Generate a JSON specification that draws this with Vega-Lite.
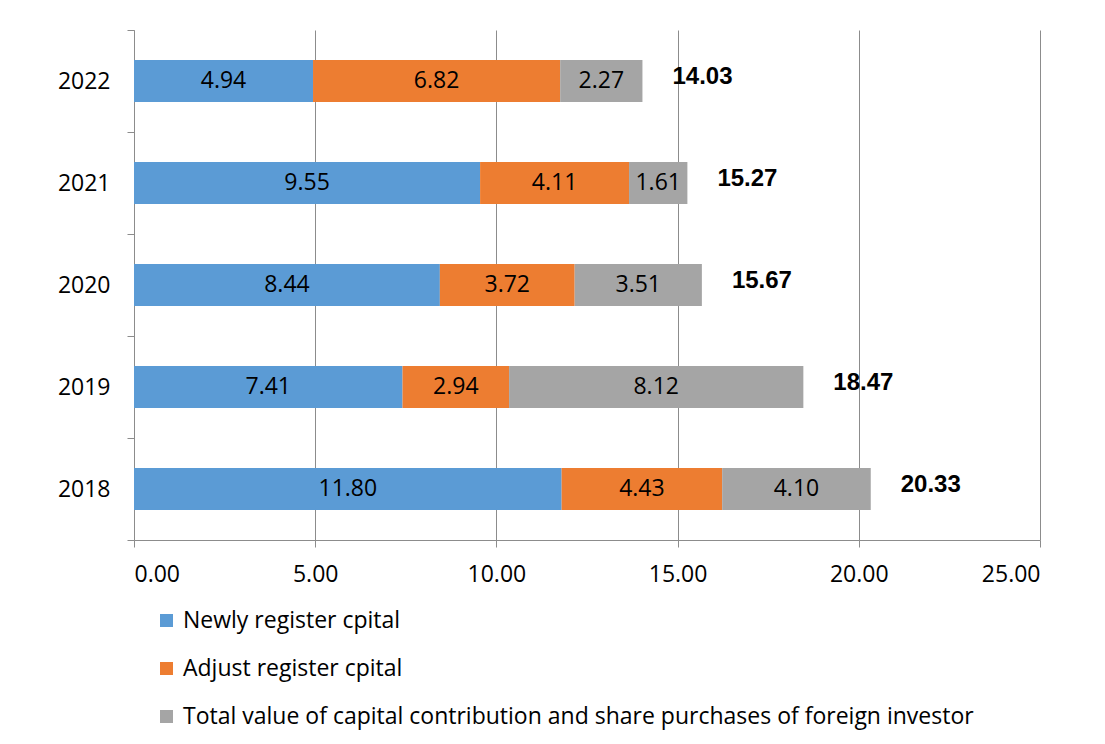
{
  "$schema": "https://vega.github.io/schema/vega-lite/v6.json",
  "width": 906,
  "height": 510,
  "autosize": "none",
  "padding": {"left": 134, "top": 30, "right": 65, "bottom": 204},
  "background": "white",
  "config": {
    "view": {"stroke": null},
    "font": "Open Sans",
    "axis": {
      "domainColor": "#8c8c8c",
      "tickColor": "#8c8c8c",
      "gridColor": "#8c8c8c",
      "labelColor": "#000000",
      "labelFont": "Open Sans",
      "labelFontSize": 23,
      "title": null
    },
    "legend": {
      "labelFont": "Open Sans",
      "labelFontSize": 23,
      "labelColor": "#000000"
    }
  },
  "data": {
    "values": [
      {"year": "2022", "series": "Newly register cpital", "value": 4.94},
      {"year": "2022", "series": "Adjust register cpital", "value": 6.82},
      {"year": "2022", "series": "Total value of capital contribution and share purchases of foreign investor", "value": 2.27},
      {"year": "2021", "series": "Newly register cpital", "value": 9.55},
      {"year": "2021", "series": "Adjust register cpital", "value": 4.11},
      {"year": "2021", "series": "Total value of capital contribution and share purchases of foreign investor", "value": 1.61},
      {"year": "2020", "series": "Newly register cpital", "value": 8.44},
      {"year": "2020", "series": "Adjust register cpital", "value": 3.72},
      {"year": "2020", "series": "Total value of capital contribution and share purchases of foreign investor", "value": 3.51},
      {"year": "2019", "series": "Newly register cpital", "value": 7.41},
      {"year": "2019", "series": "Adjust register cpital", "value": 2.94},
      {"year": "2019", "series": "Total value of capital contribution and share purchases of foreign investor", "value": 8.12},
      {"year": "2018", "series": "Newly register cpital", "value": 11.80},
      {"year": "2018", "series": "Adjust register cpital", "value": 4.43},
      {"year": "2018", "series": "Total value of capital contribution and share purchases of foreign investor", "value": 4.10}
    ]
  },
  "transform": [
    {"calculate": "indexof(['Newly register cpital','Adjust register cpital','Total value of capital contribution and share purchases of foreign investor'], datum.series)", "as": "rank"},
    {"stack": "value", "groupby": ["year"], "sort": [{"field": "rank", "order": "ascending"}], "as": ["x0", "x1"]},
    {"calculate": "(datum.x0 + datum.x1) / 2", "as": "mid"}
  ],
  "encoding": {
    "y": {
      "field": "year",
      "type": "nominal",
      "sort": ["2022", "2021", "2020", "2019", "2018"],
      "scale": {"paddingInner": 0, "paddingOuter": 0},
      "axis": {
        "tickBand": "extent",
        "tickSize": 7,
        "labelPadding": 17,
        "domain": true,
        "grid": false
      }
    }
  },
  "layer": [
    {
      "mark": {"type": "bar", "height": {"band": 0.41}},
      "encoding": {
        "x": {
          "field": "x0",
          "type": "quantitative",
          "scale": {"domain": [0, 25], "nice": false, "zero": true},
          "axis": {
            "values": [0, 5, 10, 15, 20, 25],
            "format": ".2f",
            "tickSize": 7,
            "labelPadding": 16,
            "grid": true,
            "gridWidth": 1
          }
        },
        "x2": {"field": "x1"},
        "color": {
          "field": "series",
          "type": "nominal",
          "scale": {
            "domain": ["Newly register cpital", "Adjust register cpital", "Total value of capital contribution and share purchases of foreign investor"],
            "range": ["#5B9BD5", "#ED7D31", "#A5A5A5"]
          },
          "legend": {
            "title": null,
            "orient": "none",
            "direction": "vertical",
            "legendX": 21,
            "legendY": 579,
            "symbolType": "square",
            "symbolSize": 170,
            "symbolStrokeWidth": 0,
            "rowPadding": 24,
            "labelOffset": 5,
            "labelLimit": 1000
          }
        }
      }
    },
    {
      "mark": {"type": "text", "font": "Open Sans", "fontSize": 23, "color": "#000000", "align": "center", "baseline": "middle"},
      "encoding": {
        "x": {"field": "mid", "type": "quantitative"},
        "text": {"field": "value", "type": "quantitative", "format": ".2f"}
      }
    },
    {
      "mark": {"type": "text", "font": "Liberation Sans", "fontSize": 24, "fontWeight": "bold", "color": "#000000", "align": "left", "baseline": "middle", "dx": 30, "dy": -4},
      "encoding": {
        "x": {"aggregate": "sum", "field": "value", "type": "quantitative"},
        "text": {"aggregate": "sum", "field": "value", "type": "quantitative", "format": ".2f"}
      }
    }
  ]
}
